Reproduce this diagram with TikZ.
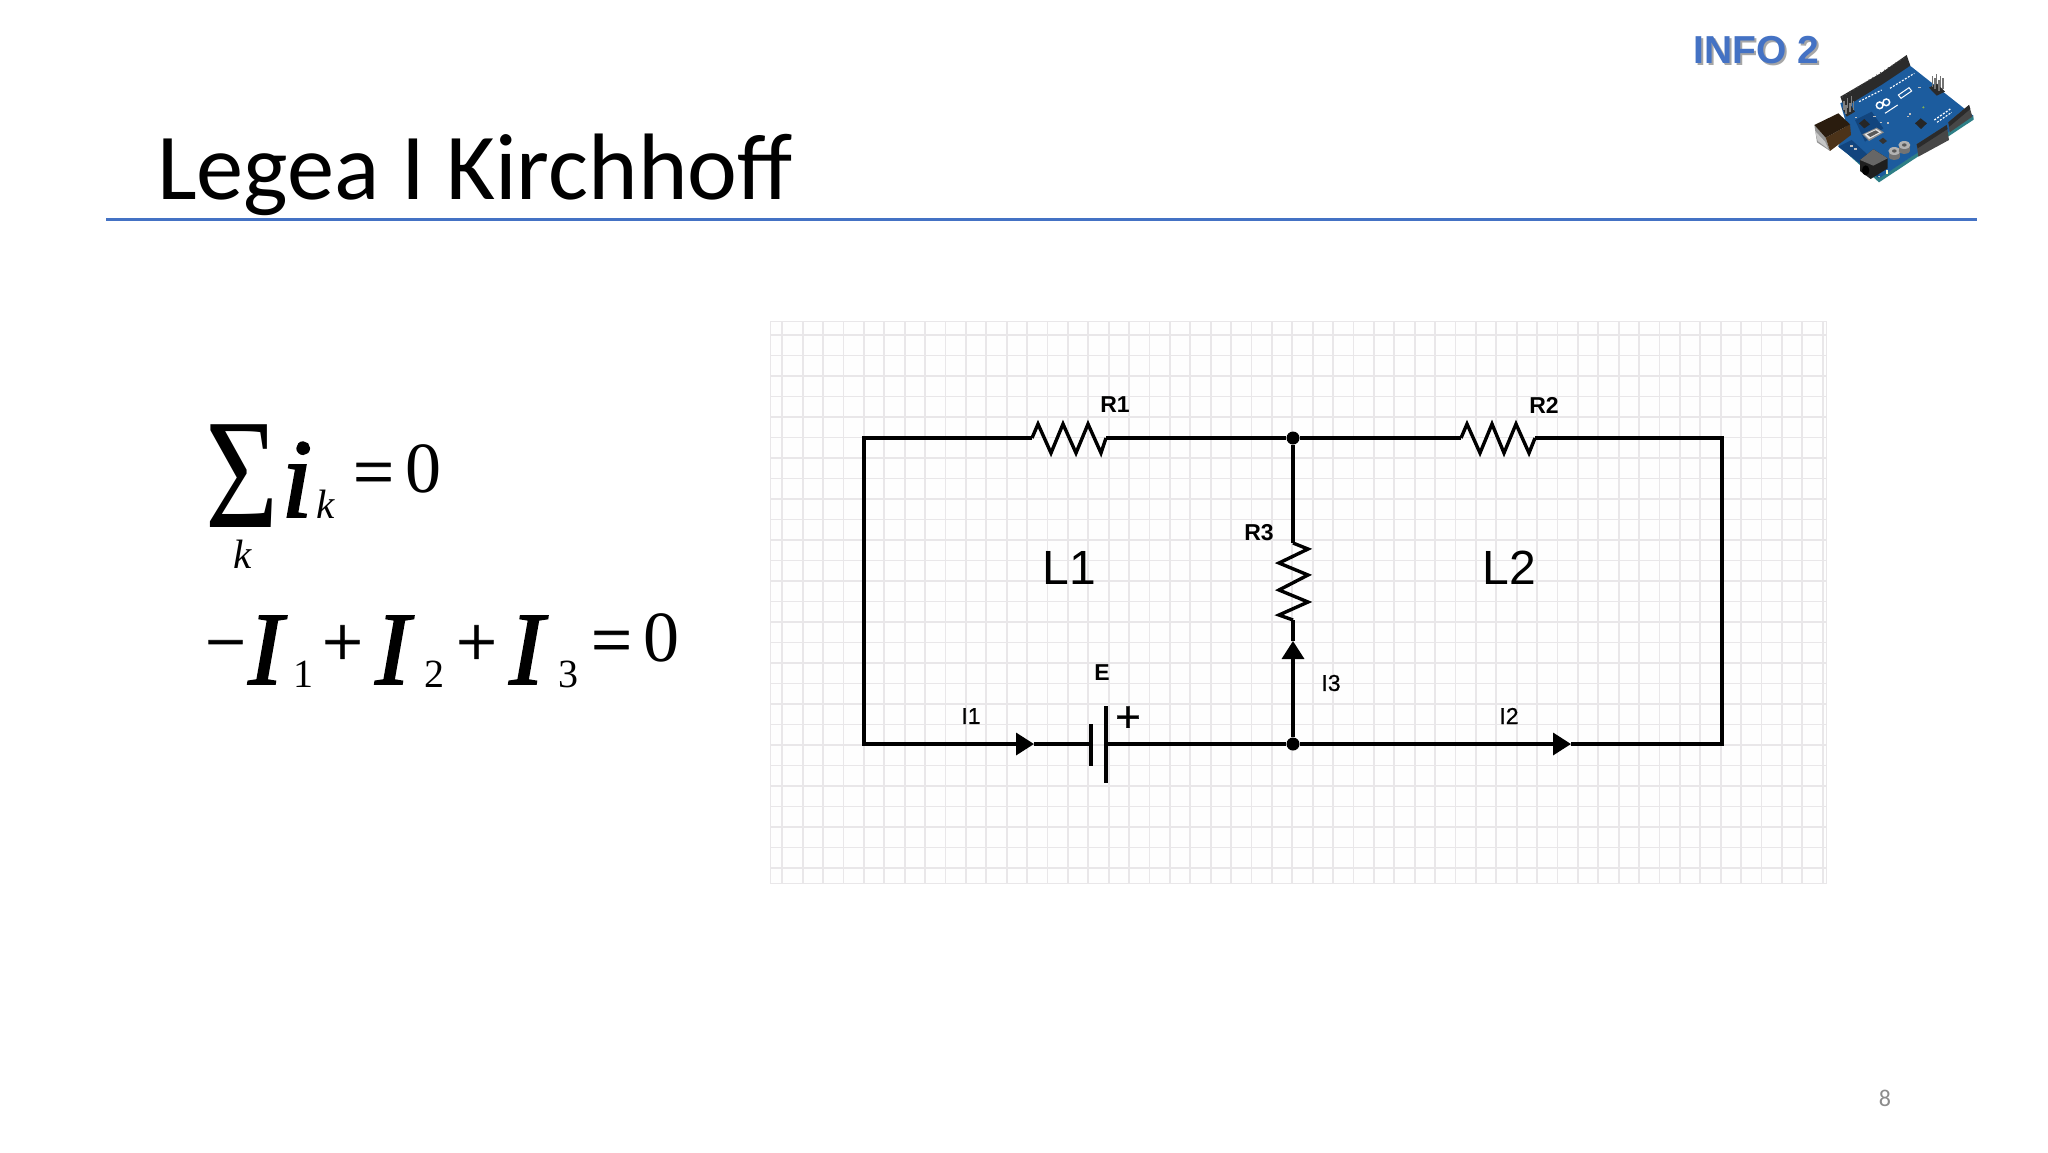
\documentclass[tikz,border=0pt]{standalone}
\usepackage{fontspec}
\usepackage{graphicx}
\setmainfont{Liberation Serif}
\newfontfamily\arialf{Liberation Sans}
\newfontfamily\arialm[FakeBold=0.7]{Liberation Sans}
\newfontfamily\calibrif{Carlito}
\newfontfamily\eqitf[ItalicFeatures={FakeBold=1.6}]{Liberation Serif}
\newfontfamily\eqopf[FakeBold=1]{Liberation Serif}
\usetikzlibrary{arrows.meta}
\newcommand\fsz[1]{\fontsize{#1}{#1}\selectfont}
\definecolor{ruleblue}{HTML}{4472C4}
\definecolor{gridc}{HTML}{E9E7E9}
\definecolor{boardc}{HTML}{1C5C9E}
\definecolor{boardd}{HTML}{12457E}
\definecolor{edgec}{HTML}{2E7F86}
\definecolor{hdrc}{HTML}{2B2B2B}
\tikzset{
  wire/.style={line width=3.5pt,black,line join=miter},
  thinwire/.style={line width=3.4pt,black,line join=miter},
  arrowed/.style={wire,-{Triangle[length=18pt,width=22pt]}},
  jdot/.style={circle,fill=black,inner sep=0pt,minimum size=13pt},
  gridline/.style={line width=1.9pt,gridc},
  lab/.style={inner sep=0pt,font=\arialf\bfseries\fsz{23}},
  labn/.style={inner sep=0pt,font=\arialm\fsz{23}},
  loop/.style={inner sep=0pt,font=\arialf\fsz{48}},
  eq/.style={inner sep=0pt,anchor=base west,font=\eqopf\fsz{72}},
  eqd/.style={inner sep=0pt,anchor=base west,font=\fsz{72}},
  eqI/.style={inner sep=0pt,anchor=base west,font=\eqitf\itshape\fsz{104}},
  eqs/.style={inner sep=0pt,anchor=base west,font=\fsz{40}},
  eqk/.style={inner sep=0pt,anchor=base west,font=\itshape\fsz{41}},
  hdr/.style={fill=hdrc},
}
\begin{document}
\begin{tikzpicture}[x=1pt,y=-1pt]
\useasboundingbox (0,0) rectangle (2048,1152);
\fill[white] (0,0) rectangle (2048,1152);

% title
\node[inner sep=0pt,anchor=base west,font=\calibrif\fsz{94.4}] (title) at (157,199) {Legea I Kirchhoff};
\coordinate (ruleL) at (106,219);
\coordinate (ruleR) at (1977,219);
\draw[line width=3pt,ruleblue] (ruleL) -- (ruleR);

% INFO 2
\node[inner sep=0pt,anchor=base west,font=\arialf\bfseries\fsz{39},text=black!35] (infoS) at (1695.5,65) {INFO 2};
\node[inner sep=0pt,anchor=base west,font=\arialf\bfseries\fsz{39},text=ruleblue] (info) at (1693.5,63) {INFO 2};

% page number
\node[inner sep=0pt,font=\calibrif\fsz{24},text=black!45] (page) at (1885,1098) {8};

% equation 1
\node[inner sep=0pt,anchor=base west] (sigma) at (205,527) {\scalebox{.8}[1]{\fsz{157}Σ}};
\node[inner sep=0pt,anchor=base west,font=\eqitf\itshape\fsz{113}] (ii) at (281,517) {i};
\node[eqk] (ksub) at (316,518) {k};
\node[eq] (eq1) at (353,496) {=};
\node[eqd] (zero1) at (405,492) {0};
\node[eqk] (kund) at (233,568) {k};

% equation 2
\node[eq] (minus) at (205,666) {−};
\node[eqI] (I1) at (248,684) {I};
\node[eqs] (n1) at (293,687) {1};
\node[eq] (p1) at (322,666) {+};
\node[eqI] (I2) at (375,684) {I};
\node[eqs] (n2) at (424,687) {2};
\node[eq] (p2) at (456,666) {+};
\node[eqI] (I3) at (509,684) {I};
\node[eqs] (n3) at (558,687) {3};
\node[eq] (eq2) at (591,664) {=};
\node[eqd] (zero2) at (643,661) {0};

% grid panel
\fill[white!98!gridc] (770,321) rectangle (1826,883);
\foreach \k in {0,...,51} \draw[gridline] ({782.3+20.4*\k},321) -- ({782.3+20.4*\k},883);
\foreach \k in {0,...,26} \draw[gridline] (770,{335+20.5*\k}) -- (1826,{335+20.5*\k});
\draw[line width=1pt,gridc] (770,321) rectangle (1826,883);

% circuit points
\coordinate (TL) at (864,438);
\coordinate (TR) at (1722,438);
\coordinate (BL) at (864,744);
\coordinate (BR) at (1722,744);
\node[jdot] (J1) at (1293,438) {};
\node[jdot] (J2) at (1293,744) {};
\coordinate (R1a) at (1032,438);
\coordinate (R1b) at (1106,438);
\coordinate (R2a) at (1461,438);
\coordinate (R2b) at (1535,438);
\coordinate (R3a) at (1293,543);
\coordinate (R3b) at (1293,620);
\coordinate (A1) at (1034,744);
\coordinate (A2) at (1571,744);
\coordinate (A3) at (1293,641);
\coordinate (Ea) at (1091,744);
\coordinate (Eb) at (1106,744);
\coordinate (Eat) at (1091,724);
\coordinate (Eab) at (1091,766);
\coordinate (Ebt) at (1106,706);
\coordinate (Ebb) at (1106,783);

% wires
\draw[arrowed] (R1a) -- (TL) -- (BL) -- (A1);
\draw[wire] (A1) -- (Ea);
\draw[wire] (Eb) -- (J2);
\draw[arrowed] (J2) -- (A2);
\draw[wire] (A2) -- (BR) -- (TR) -- (R2b);
\draw[wire] (R2a) -- (J1) -- (R1b);
\draw[wire] (J1) -- (R3a);
\draw[arrowed] (J2) -- (A3);
\draw[wire] (A3) -- (R3b);
\draw[wire] (Eat) -- (Eab);
\draw[wire] (Ebt) -- (Ebb);

% resistors
\draw[thinwire] (R1a) -- (1038,424) -- (1051,453) -- (1063,424) -- (1076,453) -- (1088,424) -- (1101,453) -- (R1b);
\draw[thinwire] (R2a) -- (1467,424) -- (1480,453) -- (1492,424) -- (1504,453) -- (1516,424) -- (1529,453) -- (R2b);
\draw[thinwire] (R3a) -- (1308,549) -- (1279,563) -- (1308,575) -- (1279,590) -- (1308,602) -- (1279,615) -- (R3b);

% circuit labels
\node[lab] (lR1) at (1115,405) {R1};
\node[lab] (lR2) at (1544,405) {R2};
\node[lab] (lR3) at (1259,533) {R3};
\node[lab] (lE) at (1102,673) {E};
\node[labn] (lI1) at (971,716) {I1};
\node[labn] (lI2) at (1509,716) {I2};
\node[labn] (lI3) at (1331,683) {I3};
\node[loop] (L1) at (1069,568) {L1};
\node[loop] (L2) at (1509,568) {L2};
\node[inner sep=0pt,font=\arialm\fsz{44}] (plus) at (1128,719) {+};

% Arduino board (photo, redrawn)
\begin{scope}[shift={(1805,45)},x=.3333pt,y=-.3333pt]
  % board edge
  \fill[edgec] (98,300) -- (222,412) -- (506,224) -- (505,212) -- (222,398) -- cycle;
  % board top
  \fill[boardc] (106,175) -- (315,62) -- (505,212) -- (222,400) -- (100,305) -- (125,240) -- cycle;
  \fill[boardd] (150,225) -- (200,200) -- (235,250) -- (180,290) -- cycle;
  \fill[boardd] (100,305) -- (140,285) -- (222,360) -- (222,400) -- cycle;
  % top header
  \fill[hdr] (106,155) -- (228,84) -- (305,30) -- (316,62) -- (232,118) -- (118,188) -- cycle;
  \foreach \t in {0,...,16} \fill[black!70] ({112+\t*11.5},{156-\t*7.3}) circle (2.2);
  % lower right headers
  \fill[black!72] (335,298) -- (425,240) -- (432,285) -- (340,335) -- cycle;
  \fill[hdr] (335,298) -- (425,240) -- (428,252) -- (338,310) -- cycle;
  \fill[black!72] (430,232) -- (492,180) -- (502,215) -- (434,262) -- cycle;
  \fill[hdr] (430,232) -- (492,180) -- (496,192) -- (433,245) -- cycle;
  % ICSP pins right
  \fill[hdr] (372,128) -- (395,115) -- (420,140) -- (395,152) -- cycle;
  \foreach \px/\py in {382/125,394/118,406/125,390/132,402/137,414/132}
    \draw[line width=1.1pt,black!55] (\px,\py) -- (\px,{\py-32});
  % ICSP pins left
  \fill[hdr] (112,190) -- (135,178) -- (150,200) -- (125,215) -- cycle;
  \foreach \px/\py in {117/195,128/188,139/182,123/208,135/202,146/195}
    \draw[line width=1.1pt,black!50] (\px,\py) -- (\px,{\py-28});
  % USB connector
  \fill[black!42] (28,240) -- (62,278) -- (75,318) -- (36,292) -- cycle;
  \fill[black!22] (30,258) -- (60,290) -- (70,312) -- (38,288) -- cycle;
  \fill[black!60!brown] (62,278) -- (135,238) -- (138,270) -- (75,318) -- cycle;
  \fill[black!78!brown] (28,240) -- (100,205) -- (135,238) -- (62,278) -- cycle;
  % DC jack
  \fill[black!88] (165,345) -- (205,313) -- (248,340) -- (248,370) -- (197,402) -- (165,378) -- cycle;
  \fill[black!60] (165,345) -- (205,313) -- (248,340) -- (205,362) -- cycle;
  \fill[black] (182,376) ellipse (11 and 15);
  % capacitors
  \foreach \cx/\cy in {268/318,298/300}{
    \fill[black!55] ({\cx-17},{\cy}) rectangle ({\cx+17},{\cy+18});
    \fill[black!55] (\cx,{\cy+18}) ellipse (17 and 9);
    \fill[black!30] (\cx,\cy) ellipse (18 and 12);
    \fill[black!65] (\cx,\cy) ellipse (7 and 5);
  }
  % chips, crystal
  \fill[black!85] (330,235) -- (347,220) -- (366,235) -- (348,252) -- cycle;
  \fill[black!85] (162,235) -- (178,222) -- (195,238) -- (178,250) -- cycle;
  \fill[black!80] (222,287) -- (234,278) -- (246,288) -- (234,297) -- cycle;
  \fill[black!45] (172,268) -- (215,248) -- (237,262) -- (192,288) -- cycle;
  \fill[black!10] (178,268) -- (214,252) -- (230,262) -- (192,282) -- cycle;
  \fill[black!65] (186,268) -- (212,256) -- (222,262) -- (196,276) -- cycle;
  % logo
  \draw[line width=1.5pt,white] (224,181) ellipse (10 and 10);
  \draw[line width=1.5pt,white] (244,172) ellipse (10 and 10);
  \draw[line width=1pt,white] (240,205) -- (278,180);
  \draw[line width=1pt,white] (280,150) -- (312,128) -- (320,138) -- (288,160) -- cycle;
  % silkscreen and small parts
  \draw[line width=1.1pt,white,dash pattern=on 2pt off 1.5pt] (162,170) -- (230,135);
  \draw[line width=1.1pt,white,dash pattern=on 2pt off 1.5pt] (255,130) -- (328,85);
  \draw[line width=1.3pt,white,dash pattern=on 2pt off 1.5pt] (388,225) -- (436,192);
  \draw[line width=1.1pt,white,dash pattern=on 2pt off 1.5pt] (396,232) -- (440,202);
  \foreach \sx/\sy in {205/212,225/230,245/232,305/212,312/205,340/125,150/215,148/310,136/300}
    \fill[black!25] (\sx,\sy) rectangle ({\sx+7},{\sy+5});
  \fill[edgec!60!yellow] (355,187) circle (3.5);
  \fill[white!80!yellow] (242,375) rectangle (250,388);
  \fill[white!80!yellow] (222,395) circle (2.5);
\end{scope}
\end{tikzpicture}
\end{document}
